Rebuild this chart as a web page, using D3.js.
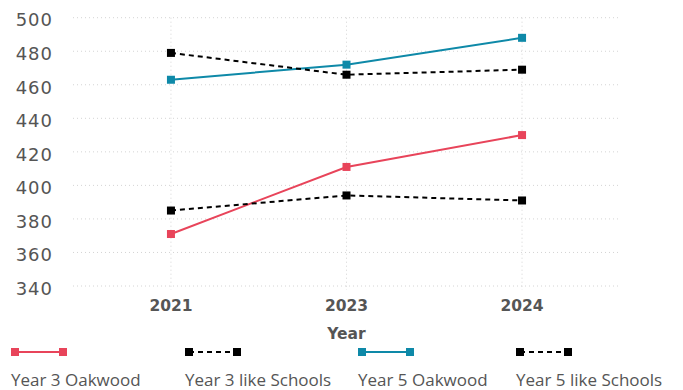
<!DOCTYPE html>
<html><head><meta charset="utf-8">
<script src="https://cdn.jsdelivr.net/npm/d3@7"></script>
<style>body{margin:0;background:#fff}svg{display:block}</style>
</head><body><svg id="c" width="683" height="390"></svg>
<script>
const years = ["2021","2023","2024"];
const yTicks = [340,360,380,400,420,440,460,480,500];
const year3Oakwood = [371,411,430];
const year3Like = [385,394,391];
const year5Oakwood = [463,472,488];
const year5Like = [479,466,469];
const seriesNames = ["Year 3 Oakwood","Year 3 like Schools","Year 5 Oakwood","Year 5 like Schools"];
const seriesColors = ["#e8445a","#000000","#0e89a8","#000000"];
const seriesDash = [null,"5,4",null,"5,4"];
const seriesValues = [year3Oakwood,year3Like,year5Oakwood,year5Like];

const svg = d3.select("#c");
const numFont = "'DejaVu Sans', sans-serif";
const txtFont = "'Open Sans', sans-serif";
const x = d3.scalePoint().domain(years).range([73,620]).padding(0.558);
const y = d3.scaleLinear().domain([340,500]).range([286,17.7]);

// grid
const g = svg.append("g");
g.selectAll("line.h").data(yTicks).join("line")
  .attr("x1",73).attr("x2",620).attr("y1",d=>y(d)).attr("y2",d=>y(d))
  .attr("stroke","#d4d4d4").attr("stroke-dasharray","1,3");
g.selectAll("line.v").data(years).join("line")
  .attr("x1",d=>x(d)).attr("x2",d=>x(d)).attr("y1",y(500)).attr("y2",y(340)+4)
  .attr("stroke","#d4d4d4").attr("stroke-dasharray","1,3");

// y axis labels
const ya = svg.append("g").attr("transform","translate(53,2.5)")
  .call(d3.axisLeft(y).tickValues(yTicks).tickSize(0).tickPadding(0));
ya.select(".domain").remove();
ya.selectAll("text").attr("font-family",numFont).attr("font-size",18)
  .attr("letter-spacing","1px").attr("fill","#555");

// x axis labels
const xa = svg.append("g").attr("transform","translate(0,311)");
xa.selectAll("text").data(years).join("text")
  .attr("x",d=>x(d)).attr("y",0).attr("text-anchor","middle")
  .attr("font-family",numFont).attr("font-size",15.5).attr("font-weight","bold").attr("fill","#555")
  .text(d=>d);

svg.append("text").attr("x",x("2023")).attr("y",339).attr("text-anchor","middle")
  .attr("font-family",numFont).attr("font-size",15.5).attr("font-weight","bold").attr("fill","#555").text("Year");

// series
const line = d3.line().x((d,i)=>x(years[i])).y(d=>y(d));
seriesValues.forEach((vals,k)=>{
  const sg = svg.append("g");
  sg.append("path").datum(vals).attr("d",line).attr("fill","none")
    .attr("stroke",seriesColors[k]).attr("stroke-width",2)
    .attr("stroke-dasharray",seriesDash[k]);
  sg.selectAll("rect").data(vals).join("rect")
    .attr("x",(d,i)=>x(years[i])-4).attr("y",d=>y(d)-4).attr("width",8).attr("height",8)
    .attr("fill",seriesColors[k]);
});

// legend
const legX = [11,185,358,516];
seriesNames.forEach((n,k)=>{
  const lg = svg.append("g").attr("transform",`translate(${legX[k]},352)`);
  lg.append("line").attr("x1",4).attr("x2",50).attr("y1",0).attr("y2",0)
    .attr("stroke",seriesColors[k]).attr("stroke-width",2).attr("stroke-dasharray",seriesDash[k]);
  lg.append("rect").attr("x",0).attr("y",-4).attr("width",8).attr("height",8).attr("fill",seriesColors[k]);
  lg.append("rect").attr("x",48).attr("y",-4).attr("width",8).attr("height",8).attr("fill",seriesColors[k]);
  lg.append("text").attr("x",0).attr("y",34).attr("font-family",txtFont).attr("font-size",17)
    .attr("fill","#555").text(n);
});
</script></body></html>
